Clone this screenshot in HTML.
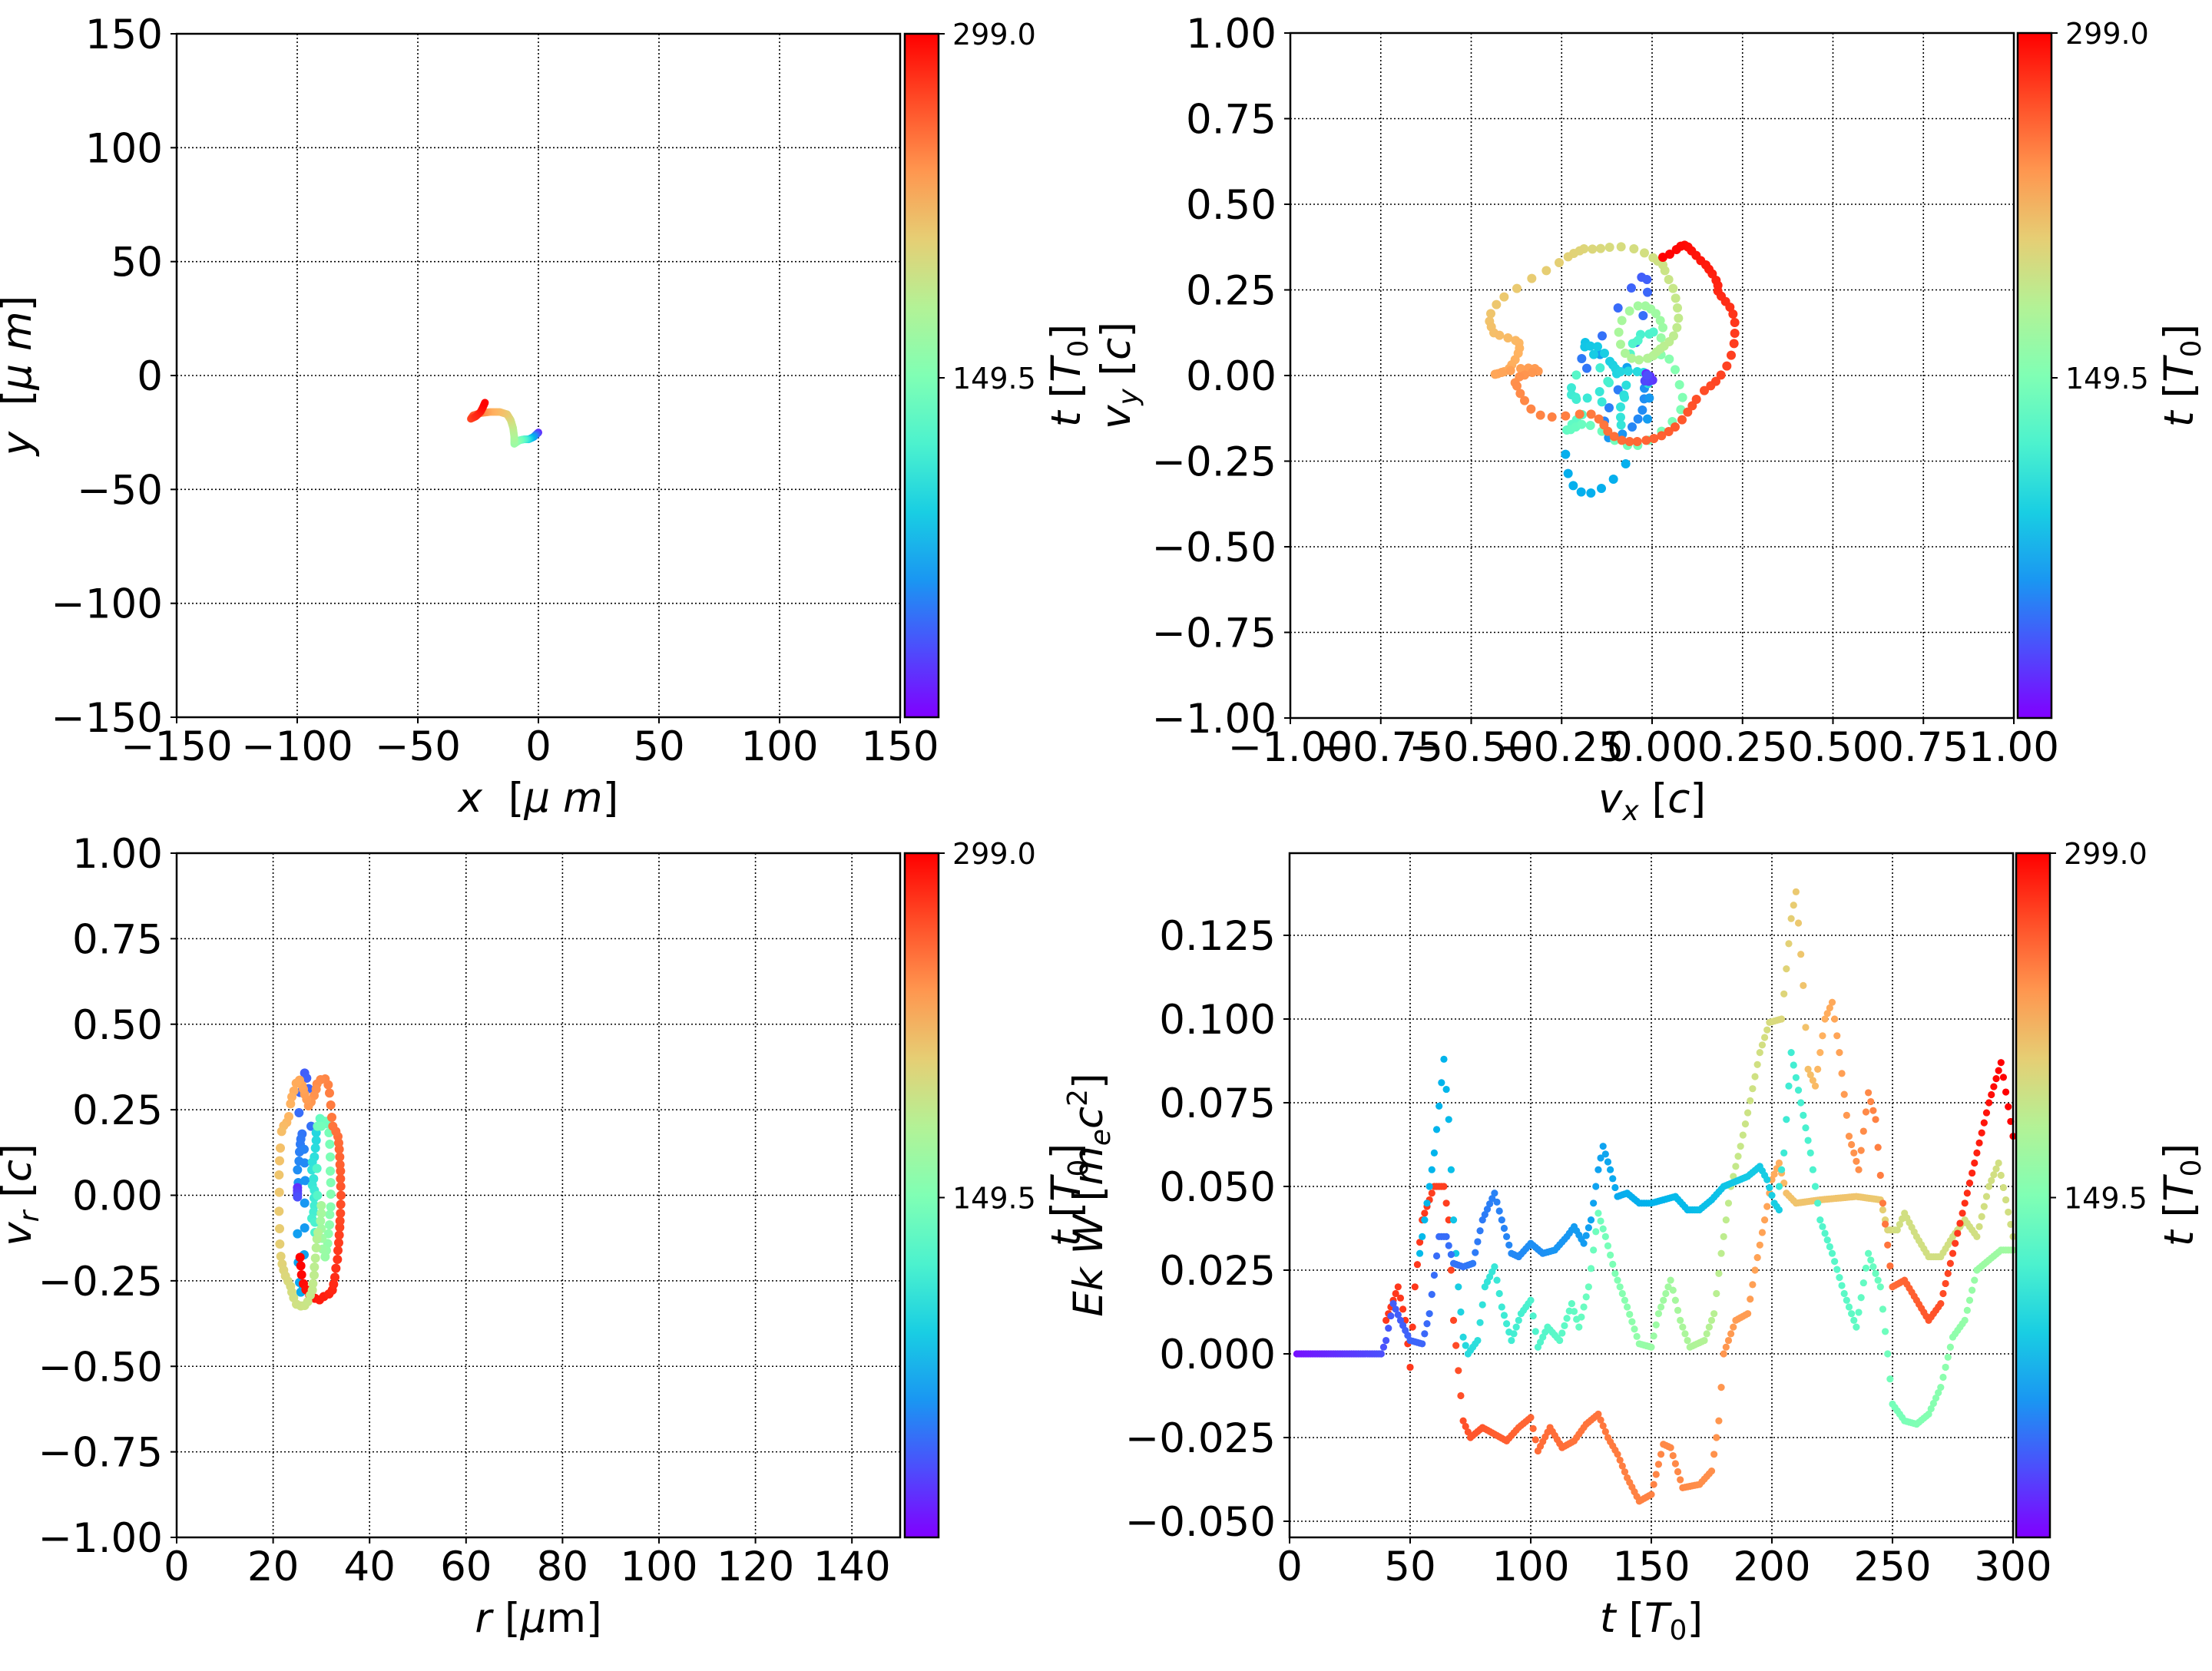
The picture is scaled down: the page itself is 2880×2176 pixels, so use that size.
<!DOCTYPE html>
<html><head><meta charset="utf-8">
<style>
html,body{margin:0;padding:0;background:#fff;}
svg{display:block;}
text{font-family:"DejaVu Sans","Liberation Sans",sans-serif;fill:#000;}
</style></head>
<body>
<svg id="s" width="2880" height="2176" viewBox="0 0 2880 2176" xmlns="http://www.w3.org/2000/svg">
<defs>
<linearGradient id="rb" x1="0" y1="1" x2="0" y2="0">
<stop offset="0" stop-color="#8000ff"/><stop offset="0.1" stop-color="#4d4dfc"/>
<stop offset="0.2" stop-color="#1a96f2"/><stop offset="0.3" stop-color="#19cee3"/>
<stop offset="0.4" stop-color="#4cf2ce"/><stop offset="0.5" stop-color="#80ffb4"/>
<stop offset="0.6" stop-color="#b3f296"/><stop offset="0.7" stop-color="#e6ce74"/>
<stop offset="0.8" stop-color="#ff964f"/><stop offset="0.9" stop-color="#ff4d27"/>
<stop offset="1" stop-color="#ff0000"/>
</linearGradient>
</defs>
<g id="g"></g>
</svg>
<script>
var NS="http://www.w3.org/2000/svg",G=document.getElementById("g");
function el(t,a,txt){var e=document.createElementNS(NS,t);for(var k in a)e.setAttribute(k,a[k]);if(txt!==undefined)e.textContent=txt;G.appendChild(e);return e;}
function cm(x){x=Math.max(0,Math.min(1,x));var r=Math.min(1,Math.abs(2*x-0.5)),g=Math.sin(Math.PI*x),b=Math.cos(Math.PI*x/2);
return "rgb("+Math.round(r*255)+","+Math.round(g*255)+","+Math.round(b*255)+")";}
function txt(x,y,s,size,anchor,rot,html){var a={x:x,y:y,"font-size":size,"text-anchor":anchor||"middle"};if(rot)a.transform="rotate(-90 "+x+" "+y+")";var e=el("text",a);if(html)e.innerHTML=html;else e.textContent=s;return e;}
function panel(L,R,T,B,xt,yt,xl,yl,fmtx,fmty,xgrid,ygrid){
  xgrid.forEach(function(v){var X=xl(v);el("line",{x1:X,x2:X,y1:T,y2:B,stroke:"#000","stroke-width":1.6,"stroke-dasharray":"2,3"});});
  ygrid.forEach(function(v){var Y=yl(v);el("line",{x1:L,x2:R,y1:Y,y2:Y,stroke:"#000","stroke-width":1.6,"stroke-dasharray":"2,3"});});
}
function frame(L,R,T,B,xt,yt,xl,yl,fx,fy){
  el("rect",{x:L,y:T,width:R-L,height:B-T,fill:"none",stroke:"#000","stroke-width":2.5});
  xt.forEach(function(v){var X=xl(v);el("line",{x1:X,x2:X,y1:B,y2:B+8,stroke:"#000","stroke-width":2});txt(X,B+56,fx(v),53,"middle");});
  yt.forEach(function(v){var Y=yl(v);el("line",{x1:L-8,x2:L,y1:Y,y2:Y,stroke:"#000","stroke-width":2});txt(L-18,Y+19,fy(v),53,"end");});
}
function cbar(X,T,B){
  el("rect",{x:X,y:T,width:44,height:B-T,fill:"url(#rb)",stroke:"#000","stroke-width":2.5});
  el("line",{x1:X+44,x2:X+52,y1:T,y2:T,stroke:"#000","stroke-width":2});
  var m=(T+B)/2+3;
  el("line",{x1:X+44,x2:X+52,y1:m,y2:m,stroke:"#000","stroke-width":2});
  txt(X+62,T+14,"299.0",38,"start");
  txt(X+62,m+14,"149.5",38,"start");
}
function mn(v){return (v<0?"\u2212":"")+Math.abs(v);}
function f2(v){return (v<0?"\u2212":"")+Math.abs(v).toFixed(2);}
function f3(v){return (v<0?"\u2212":"")+Math.abs(v).toFixed(3);}
var TT='<tspan font-style="italic">t</tspan> [<tspan font-style="italic">T</tspan><tspan font-size="36" dy="10">0</tspan><tspan dy="-10">]</tspan>';
(function(){
 var L=230,R=1172,T=44,B=934;
 var xl=function(v){return L+(v+150)/300*(R-L);},yl=function(v){return B-(v+150)/300*(B-T);};
 var t=[-150,-100,-50,0,50,100,150];
 panel(L,R,T,B,t,t,xl,yl,0,0,t,t);
 var p=[[0,-25,.05],[-1,-26,.12],[-2,-27,.2],[-4,-28,.3],[-6,-28,.4],[-8,-28.5,.48],[-10,-30,.55],[-10,-27,.58],[-10.5,-23,.62],[-11.5,-19.5,.66],[-13,-17,.7],[-16,-16,.73],[-20,-16,.76],[-24,-16.5,.82],[-27,-17.5,.88],[-28,-19,.91],[-26,-18,.94],[-24,-16,.96],[-23,-14,.98],[-22,-11.5,1]];
 for(var i=0;i<p.length-1;i++){var a=p[i],b=p[i+1];for(var k=0;k<6;k++){var f=k/6;el("circle",{cx:xl(a[0]+(b[0]-a[0])*f),cy:yl(a[1]+(b[1]-a[1])*f),r:5,fill:cm(a[2]+(b[2]-a[2])*f)});}}
 frame(L,R,T,B,t,t,xl,yl,mn,mn);
 cbar(1178,T,B);
 txt((L+R)/2,B+123,"",53,"middle",0,'<tspan font-style="italic">x</tspan>\u00a0\u00a0[<tspan font-style="italic">μ\u00a0m</tspan>]');
 txt(40,489,"",53,"middle",1,'<tspan font-style="italic">y</tspan>\u00a0\u00a0[<tspan font-style="italic">μ\u00a0m</tspan>]');
 txt(1406,489,"",53,"middle",1,TT);
})();
(function(){
 var L=1680,R=2622,T=43,B=935;
 var xl=function(v){return L+(v+1)/2*(R-L);},yl=function(v){return B-(v+1)/2*(B-T);};
 var t=[-1,-.75,-.5,-.25,0,.25,.5,.75,1];
 panel(L,R,T,B,t,t,xl,yl,0,0,t,t);
 function dots(arr,c0,c1){for(var i=0;i<arr.length;i++){var c=(arr.length>1)?c0+(c1-c0)*i/(arr.length-1):c0;el("circle",{cx:1900+arr[i][0]/3,cy:280+arr[i][1]/3,r:6,fill:cm(c)});}}
 dots([[712,243],[733,252],[672,285],[735,302],[620,363],[718,393],[558,472],[690,498],[498,599],[478,561],[620,683],[585,753],[567,805],[675,828],[698,797],[715,762],[722,718],[723,677],[637,856],[583,870],[742,715],[735,797],[550,545],[655,596]],.12,.22);
 dots([[415,935],[425,1010],[445,1057],[476,1082],[514,1086],[555,1068],[602,1032],[650,972]],.24,.24);
 dots([[492,498],[490,515],[512,512],[540,514],[525,545],[567,540],[588,572],[600,586],[610,600],[615,620],[630,612],[660,610],[695,612],[720,615],[738,658],[652,665],[643,703],[645,713],[630,750],[630,790],[632,820],[548,690],[557,730],[500,715],[438,675],[438,702],[455,712],[457,720],[550,597],[585,655],[580,650],[708,467],[742,465],[758,457],[698,490],[677,502],[668,543],[457,625]],.28,.42);
 dots([[480,780],[458,800],[440,818],[420,840],[435,838],[455,828],[478,818],[512,822],[557,845],[607,880],[657,900],[697,900],[740,880],[790,845],[832,807],[865,760],[872,713],[860,663],[843,604],[820,563],[788,546],[760,548],[738,560]],.43,.53);
 dots([[730,620],[745,630],[755,645],[740,650],[725,648],[735,625]],.05,.1);
 dots([[788,480],[795,440],[785,412],[768,385],[748,367],[727,355],[698,355],[665,375],[635,412],[623,458],[630,505],[648,540],[673,560],[702,566],[735,560],[757,550],[770,535],[785,523],[800,512],[820,495],[837,472],[850,440],[856,403],[852,363],[845,325],[835,287],[818,252],[803,217],[795,195],[775,180],[757,167],[723,148],[682,132],[632,124],[587,126],[552,131],[520,133],[487,132],[470,140],[447,150],[425,163],[390,186],[340,217],[283,248],[225,287],[175,320],[145,350],[123,385],[118,415],[125,437],[135,460],[157,470],[190,480],[220,490],[233,500],[235,520],[230,540],[218,565],[205,585],[195,600],[175,612],[150,620],[140,622],[165,615],[200,608],[240,600],[270,598],[295,600],[308,610],[285,615],[255,625],[235,632],[218,655],[225,668],[238,697],[255,725],[280,758],[317,782],[362,789],[415,785],[470,778],[515,778],[545,797],[565,820],[580,845],[605,865],[635,880],[665,885],[695,885],[730,880],[760,873],[790,862],[818,846],[843,828],[870,800],[892,770],[910,745],[926,720],[957,686],[982,667],[1002,650],[1022,625],[1045,590],[1062,548],[1073,502],[1076,462],[1076,420],[1069,387],[1057,360],[1040,338],[1023,317],[1010,297],[1010,275],[1003,255],[988,230],[975,212],[963,195],[943,178],[925,158],[907,140],[893,125],[880,118],[865,122],[848,135],[822,153],[795,165]],.55,1);
 frame(L,R,T,B,t,t,xl,yl,f2,f2);
 cbar(2627,T,B);
 txt((L+R)/2,B+123,"",53,"middle",0,'<tspan font-style="italic">v</tspan><tspan font-size="36" dy="10" font-style="italic">x</tspan><tspan dy="-10"> [</tspan><tspan font-style="italic">c</tspan>]');
 txt(1471,489,"",53,"middle",1,'<tspan font-style="italic">v</tspan><tspan font-size="36" dy="10" font-style="italic">y</tspan><tspan dy="-10"> [</tspan><tspan font-style="italic">c</tspan>]');
 txt(2855,489,"",53,"middle",1,TT);
})();
(function(){
 var L=230,R=1172,T=1111,B=2002;
 var xl=function(v){return L+v/150*(R-L);},yl=function(v){return B-(v+1)/2*(B-T);};
 var xt=[0,20,40,60,80,100,120,140],yt=[-1,-.75,-.5,-.25,0,.25,.5,.75,1];
 panel(L,R,T,B,xt,yt,xl,yl,0,0,xt,yt);
 function dots(arr,c0,c1){for(var i=0;i<arr.length;i++){var c=(arr.length>1)?c0+(c1-c0)*i/(arr.length-1):c0;el("circle",{cx:330+arr[i][0]/3,cy:1360+arr[i][1]/3,r:6,fill:cm(c)});}}
 dots([[200,112],[208,132],[215,173],[182,188],[178,267],[225,320],[190,350],[185,370],[183,390],[180,420],[198,410],[178,456],[200,463],[172,490],[175,540],[202,532],[200,620],[200,717],[172,740],[198,822],[175,852],[180,930],[185,968],[195,948]],.12,.24);
 dots([[172,560],[172,572],[172,584],[172,596]],.06,.1);
 dots([[245,345],[245,375],[242,405],[238,440],[230,460],[228,490],[235,525],[230,550],[238,570],[237,600],[238,630],[235,655],[228,680],[240,695],[240,735],[250,760],[248,485],[250,590]],.32,.42);
 dots([[260,290],[275,300],[285,310],[290,300],[250,320],[265,320],[295,345],[298,390],[300,440],[300,495],[302,540],[302,585],[302,635],[298,665],[297,705],[293,740],[290,778],[285,805],[280,830],[270,800],[268,758],[265,720],[262,690],[265,660],[265,630]],.45,.58);
 var rp=[[182,832],[185,865],[188,900],[195,935],[205,958],[220,980],[240,992],[258,998],[275,985],[295,975],[308,960],[313,937],[318,910],[322,875],[328,840],[330,805],[333,775],[335,745],[337,715],[338,690],[340,660],[341,625],[342,590],[341,555],[340,525],[340,495],[338,470],[337,440],[335,410],[333,385],[330,360],[322,340],[310,320],[306,285],[302,237],[297,190],[292,158],[280,135],[262,138],[248,155],[245,175],[237,200],[225,225],[215,240],[208,215],[200,195],[195,175],[190,160],[180,140],[167,152],[158,182],[150,205],[145,232],[138,282],[130,305],[118,318],[110,340],[105,405],[102,455],[100,510],[101,578],[100,652],[102,720],[103,780],[107,828],[112,858],[118,882],[125,905],[135,925],[145,945],[150,968],[157,990],[168,1015],[185,1022],[200,1020],[212,1005],[222,980],[230,960],[232,935],[237,902],[238,870],[242,835],[245,795],[248,760],[252,735]];
 dots(rp,1.0,.6);
 frame(L,R,T,B,xt,yt,xl,yl,mn,f2);
 cbar(1178,T,B);
 txt((L+R)/2,B+123,"",53,"middle",0,'<tspan font-style="italic">r</tspan> [<tspan font-style="italic">μ</tspan>m]');
 txt(40,1556,"",53,"middle",1,'<tspan font-style="italic">v</tspan><tspan font-size="36" dy="10" font-style="italic">r</tspan><tspan dy="-10"> [</tspan><tspan font-style="italic">c</tspan>]');
 txt(1406,1556,"",53,"middle",1,TT);
})();
(function(){
 var L=1679,R=2621,T=1111,B=2002;
 var y0=1763,py=109/0.025;
 var xl=function(v){return L+v/300*(R-L);},yl=function(v){return y0-v*py;};
 var xt=[0,50,100,150,200,250,300],yt=[-.05,-.025,0,.025,.05,.075,.1,.125];
 panel(L,R,T,B,xt,yt,xl,yl,0,0,xt,yt);
 function ser(k){for(var i=0;i<k.length-1;i++){var a=k[i],b=k[i+1];var n=Math.max(1,Math.round((b[0]-a[0])/0.95));for(var j=0;j<n;j++){var f=j/n;el("circle",{cx:xl(a[0]+(b[0]-a[0])*f),cy:yl(a[1]+(b[1]-a[1])*f),r:4.6,fill:cm(a[2]+(b[2]-a[2])*f)});}}
  var l=k[k.length-1];el("circle",{cx:xl(l[0]),cy:yl(l[1]),r:4.6,fill:cm(l[2])});}
 ser([[3,0,.02],[38,0,.1]]);
 ser([[40,.01,.93],[45,.02,.93],[48,.01,.93],[50,-.004,.93],[52,.02,.93],[55,.04,.93],[60,.05,.92],[64,.05,.92],[66,.04,.92],[68,.01,.91],[70,-.005,.9],[72,-.02,.9],[75,-.025,.89],[80,-.022,.89],[85,-.024,.88],[90,-.026,.88],[95,-.022,.87],[100,-.019,.87],[103,-.029,.86],[108,-.022,.86],[113,-.028,.86],[118,-.026,.85],[123,-.021,.85],[128,-.018,.85],[132,-.025,.84],[136,-.03,.84],[140,-.037,.83],[145,-.044,.83],[150,-.042,.83],[155,-.027,.82],[158,-.028,.82],[163,-.04,.82],[170,-.039,.81],[175,-.035,.81],[178,-.02,.8],[180,0,.8],[185,.01,.79],[190,.012,.79],[193,.025,.78],[197,.04,.78],[200,.052,.77],[203,.057,.76],[206,.048,.73],[210,.045,.72],[220,.046,.72],[235,.047,.72],[245,.046,.71],[248,.037,.68],[252,.037,.66],[255,.042,.66],[260,.035,.66],[265,.029,.66],[270,.029,.66],[275,.035,.66],[280,.04,.66],[285,.035,.66],[290,.05,.66],[294,.057,.66],[300,.035,.66]]);
 ser([[54,.03,.26],[60,.06,.25],[64,.088,.25],[66,.07,.26],[68,.04,.28],[70,.02,.3],[72,.005,.32],[74,0,.33],[78,.004,.34],[81,.02,.35],[85,.026,.36],[88,.014,.37],[92,.004,.38],[96,.012,.39],[100,.016,.4],[103,.002,.41],[107,.008,.42],[112,.004,.43],[117,.015,.44],[120,.008,.45],[124,.02,.46],[128,.042,.47],[131,.035,.48],[135,.024,.5],[140,.014,.52],[145,.003,.54],[150,.002,.55],[153,.012,.56],[158,.022,.57],[162,.01,.58],[166,.002,.59],[172,.004,.6],[176,.012,.61],[179,.03,.62],[183,.05,.63],[187,.062,.64],[190,.072,.65],[195,.09,.66],[199,.099,.67],[204,.1,.68],[208,.13,.7],[210,.138,.71],[213,.11,.72],[215,.085,.73],[218,.08,.74],[222,.1,.76],[225,.105,.77],[228,.09,.78],[232,.065,.8],[236,.055,.81],[240,.078,.82],[243,.07,.83],[246,.045,.84],[250,.02,.86],[255,.022,.87],[260,.016,.88],[265,.01,.89],[270,.015,.9],[275,.03,.92],[280,.045,.94],[285,.06,.96],[290,.075,.98],[295,.087,1],[300,.065,1]]);
 ser([[203,.05,.36],[205,.06,.37],[208,.09,.38],[212,.075,.39],[216,.06,.4],[220,.04,.41],[225,.03,.42],[230,.018,.43],[235,.008,.44],[240,.03,.45],[245,.02,.46],[248,0,.47],[250,-.015,.48],[255,-.02,.49],[260,-.021,.5],[265,-.018,.51],[270,-.01,.52],[275,.005,.53],[280,.01,.54],[285,.025,.55],[290,.028,.56],[295,.031,.56],[300,.031,.57]]);
 ser([[38,0,.1],[40,.004,.11],[43,.015,.12],[46,.01,.12],[50,.004,.13],[55,.003,.13],[58,.012,.14],[62,.035,.14],[65,.035,.14],[68,.027,.15],[72,.026,.15],[76,.027,.16],[80,.04,.16],[85,.048,.17],[88,.04,.17],[92,.03,.18],[95,.029,.18],[100,.033,.19],[105,.03,.19],[110,.031,.2],[115,.035,.2],[118,.038,.21],[122,.033,.21],[125,.04,.22],[128,.055,.22],[130,.062,.22],[133,.055,.23],[136,.047,.23],[140,.048,.24],[145,.045,.24],[150,.045,.25],[155,.046,.25],[160,.047,.26],[165,.043,.26],[170,.043,.27],[175,.046,.27],[180,.05,.28],[190,.053,.29],[195,.056,.29],[198,.052,.3],[201,.045,.3],[203,.043,.3]]);
 frame(L,R,T,B,xt,yt,xl,yl,mn,f3);
 cbar(2625,T,B);
 txt((L+R)/2,B+123,"",53,"middle",0,TT);
 txt(1435,1556,"",53,"middle",1,'<tspan font-style="italic">Ek W</tspan> [<tspan font-style="italic">m</tspan><tspan font-size="36" dy="10" font-style="italic">e</tspan><tspan dy="-10" font-style="italic">c</tspan><tspan font-size="36" dy="-20">2</tspan><tspan dy="20">]</tspan>');
 txt(2855,1556,"",53,"middle",1,TT);
})();
</script>
</body></html>
